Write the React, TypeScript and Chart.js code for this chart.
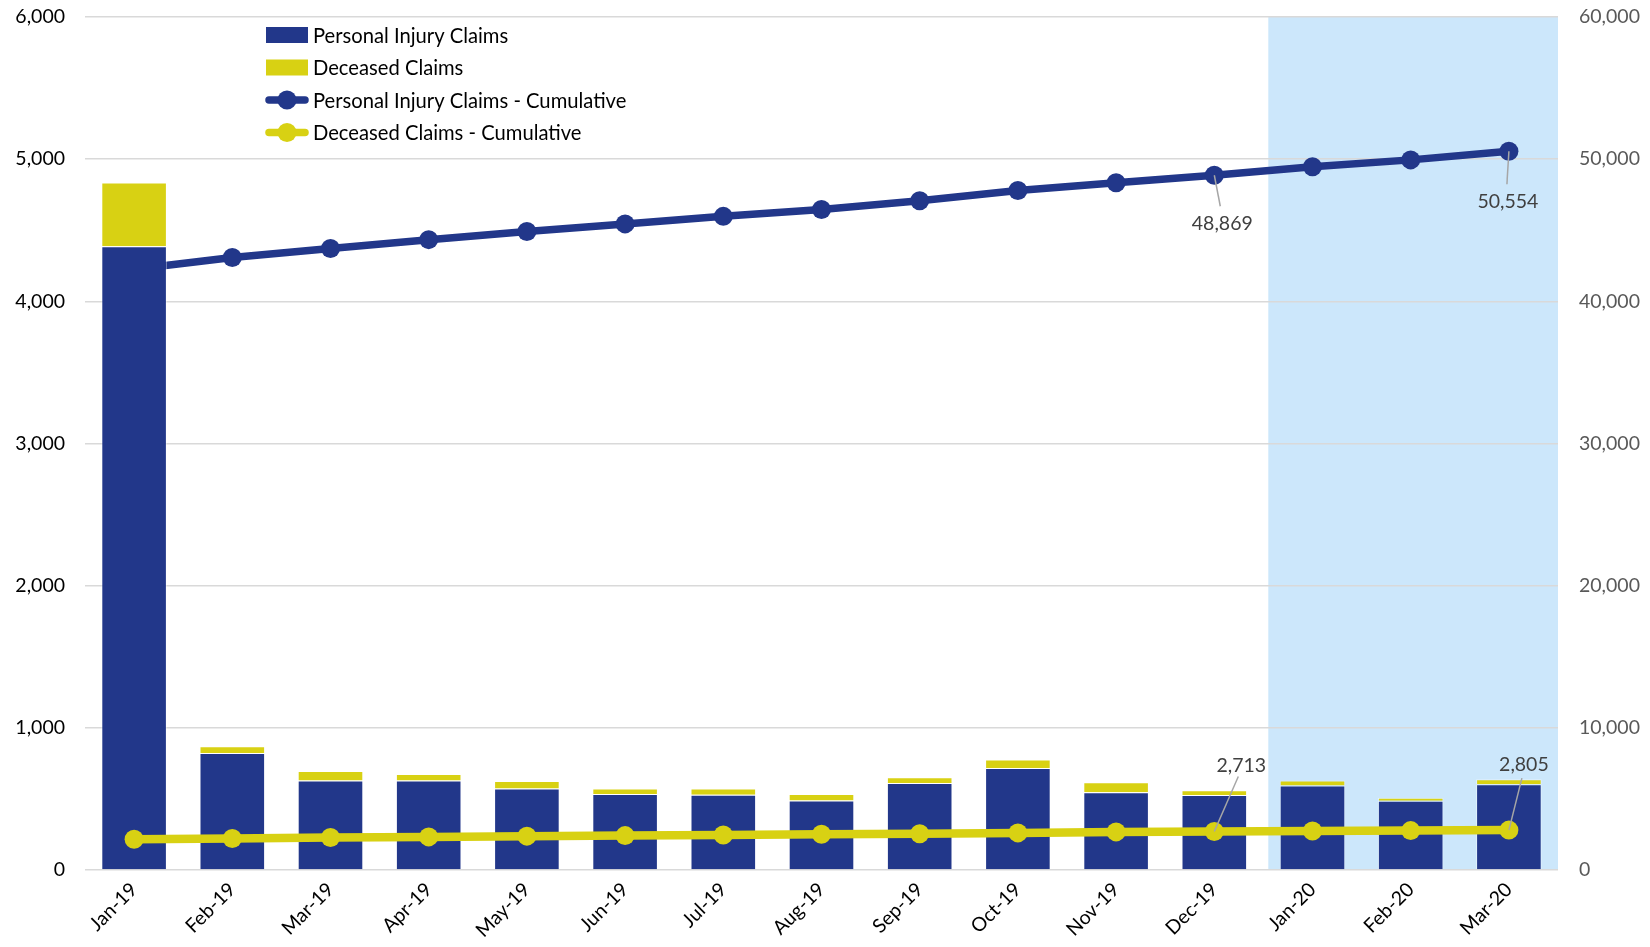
import React, { useEffect, useRef } from "react";
import { Chart, registerables } from "chart.js";

Chart.register(...registerables);

const months = [
  "Jan-19", "Feb-19", "Mar-19", "Apr-19", "May-19", "Jun-19", "Jul-19", "Aug-19",
  "Sep-19", "Oct-19", "Nov-19", "Dec-19", "Jan-20", "Feb-20", "Mar-20",
];
const personalInjuryClaims = [4387, 823, 629, 629, 573, 535, 530, 488, 612, 717, 547, 528, 594, 487, 604];
const deceasedClaims = [448, 47, 67, 46, 53, 38, 43, 47, 40, 60, 70, 33, 36, 21, 35];
const personalInjuryCumulative = [
  42258, 43081, 43710, 44339, 44912, 45447, 45977, 46465, 47077, 47794, 48341, 48869, 49463, 49950, 50554,
];
const deceasedCumulative = [2169, 2216, 2283, 2329, 2382, 2420, 2463, 2510, 2550, 2610, 2680, 2713, 2749, 2770, 2805];

const leftAxisMax = 6000;
const leftAxisStep = 1000;
const rightAxisMax = 60000;
const rightAxisStep = 10000;
const highlightFrom = "Jan-20";

const BLUE = "#22378A";
const YELLOW = "#D8D113";
const SHADE = "#CCE7FB";
const FONT = "Lato, 'Open Sans', sans-serif";

const callouts = [
  { dataset: 2, index: 11, dx: 8, dy: 48, lx: 6, ly: 31 },
  { dataset: 2, index: 14, dx: -1, dy: 50, lx: -2, ly: 33 },
  { dataset: 3, index: 11, dx: 27, dy: -66, lx: 24, ly: -55 },
  { dataset: 3, index: 14, dx: 15, dy: -65, lx: 13, ly: -52 },
];

const fmt = (v: number) => Math.round(v).toLocaleString("en-US");

const shadePlugin = {
  id: "shade",
  beforeDraw(chart: any) {
    const { ctx, chartArea, scales } = chart;
    const idx = months.indexOf(highlightFrom);
    const left = scales.x.getPixelForValue(idx - 0.45);
    ctx.save();
    ctx.fillStyle = SHADE;
    ctx.fillRect(left, chartArea.top, chartArea.right - left, chartArea.bottom - chartArea.top);
    ctx.restore();
  },
};

const calloutPlugin = {
  id: "callouts",
  afterDatasetsDraw(chart: any) {
    const { ctx } = chart;
    ctx.save();
    ctx.font = `19.5px ${FONT}`;
    ctx.textAlign = "center";
    ctx.textBaseline = "middle";
    callouts.forEach((c) => {
      const pt = chart.getDatasetMeta(c.dataset).data[c.index];
      const value = chart.data.datasets[c.dataset].data[c.index] as number;
      ctx.strokeStyle = "#A6A6A6";
      ctx.lineWidth = 1.5;
      ctx.beginPath();
      ctx.moveTo(pt.x, pt.y);
      ctx.lineTo(pt.x + c.lx, pt.y + c.ly);
      ctx.stroke();
      ctx.fillStyle = "#404040";
      ctx.fillText(fmt(value), pt.x + c.dx, pt.y + c.dy);
    });
    ctx.restore();
  },
};

const legendPlugin = {
  id: "customLegend",
  afterDraw(chart: any) {
    const { ctx } = chart;
    const x0 = 266;
    const w = 42;
    const textX = 313;
    const rows = [35, 67.5, 100, 132.5];
    ctx.save();
    ctx.font = `20.2px ${FONT}`;
    ctx.textAlign = "left";
    ctx.textBaseline = "middle";
    chart.data.datasets.forEach((ds: any, i: number) => {
      const y = rows[i];
      const color = ds.backgroundColor;
      if (ds.type === "bar") {
        ctx.fillStyle = color;
        ctx.fillRect(x0, y - 8, w, 16);
      } else {
        ctx.strokeStyle = ds.borderColor;
        ctx.lineWidth = 7.5;
        ctx.lineCap = "round";
        ctx.beginPath();
        ctx.moveTo(x0 + 3, y);
        ctx.lineTo(x0 + w - 3, y);
        ctx.stroke();
        ctx.fillStyle = ds.borderColor;
        ctx.beginPath();
        ctx.arc(x0 + w / 2, y, 9.5, 0, Math.PI * 2);
        ctx.fill();
      }
      ctx.fillStyle = "#000000";
      ctx.fillText(ds.label, textX, y + 1);
    });
    ctx.restore();
  },
};

export default function App() {
  const ref = useRef<HTMLCanvasElement | null>(null);

  useEffect(() => {
    if (!ref.current) return;
    const chart = new Chart(ref.current, {
      type: "bar",
      data: {
        labels: months,
        datasets: [
          {
            type: "bar",
            label: "Personal Injury Claims",
            data: personalInjuryClaims,
            backgroundColor: BLUE,
            borderColor: "rgba(255,255,255,0.45)",
            borderWidth: 1,
            yAxisID: "y",
            stack: "claims",
            order: 1,
            barPercentage: 0.668,
            categoryPercentage: 1,
          },
          {
            type: "bar",
            label: "Deceased Claims",
            data: deceasedClaims,
            backgroundColor: YELLOW,
            borderColor: "rgba(255,255,255,0.45)",
            borderWidth: 1,
            yAxisID: "y",
            stack: "claims",
            order: 2,
            barPercentage: 0.668,
            categoryPercentage: 1,
          },
          {
            type: "line",
            label: "Personal Injury Claims - Cumulative",
            data: personalInjuryCumulative,
            borderColor: BLUE,
            backgroundColor: BLUE,
            borderWidth: 7.5,
            pointRadius: 9.5,
            pointBorderWidth: 0,
            pointBackgroundColor: BLUE,
            tension: 0,
            yAxisID: "y1",
            order: 3,
          },
          {
            type: "line",
            label: "Deceased Claims - Cumulative",
            data: deceasedCumulative,
            borderColor: YELLOW,
            backgroundColor: YELLOW,
            borderWidth: 8.5,
            pointRadius: 9.5,
            pointBorderWidth: 0,
            pointBackgroundColor: YELLOW,
            tension: 0,
            yAxisID: "y1",
            order: 0,
          },
        ],
      } as any,
      options: {
        responsive: true,
        maintainAspectRatio: false,
        animation: false,
        layout: { autoPadding: false, padding: { top: 17, left: 0, right: 0, bottom: 0 } },
        plugins: {
          legend: { display: false },
          tooltip: { enabled: false },
        },
        scales: {
          x: {
            stacked: true,
            grid: { display: false, drawTicks: false },
            border: { display: false },
            ticks: {
              maxRotation: 45,
              minRotation: 45,
              padding: 8,
              color: "#000000",
              font: { family: FONT, size: 19.5 },
            },
            afterFit: (scale: any) => {
              scale.height = 77;
            },
          },
          y: {
            type: "linear",
            position: "left",
            stacked: true,
            min: 0,
            max: leftAxisMax,
            ticks: {
              stepSize: leftAxisStep,
              padding: 2,
              color: "#000000",
              font: { family: FONT, size: 19.5 },
              callback: (v: any) => fmt(Number(v)),
            },
            grid: {
              color: "#D9D9D9",
              lineWidth: 1.5,
              drawTicks: true,
              tickLength: 18,
              tickColor: "rgba(0,0,0,0)",
            },
            border: { display: false },
            afterFit: (scale: any) => {
              scale.width = 85;
            },
          },
          y1: {
            type: "linear",
            position: "right",
            min: 0,
            max: rightAxisMax,
            ticks: {
              stepSize: rightAxisStep,
              padding: 2,
              color: "#595959",
              font: { family: FONT, size: 19.5 },
              callback: (v: any) => fmt(Number(v)),
            },
            grid: {
              display: true,
              drawOnChartArea: false,
              drawTicks: true,
              tickLength: 19,
              tickColor: "rgba(0,0,0,0)",
            },
            border: { display: false },
            afterFit: (scale: any) => {
              scale.width = 92;
            },
          },
        },
      } as any,
      plugins: [shadePlugin, calloutPlugin, legendPlugin],
    });
    return () => chart.destroy();
  }, []);

  return (
    <div style={{ position: "absolute", left: 0, top: 0, width: 1650, height: 947, background: "#ffffff" }}>
      <canvas ref={ref} />
    </div>
  );
}
